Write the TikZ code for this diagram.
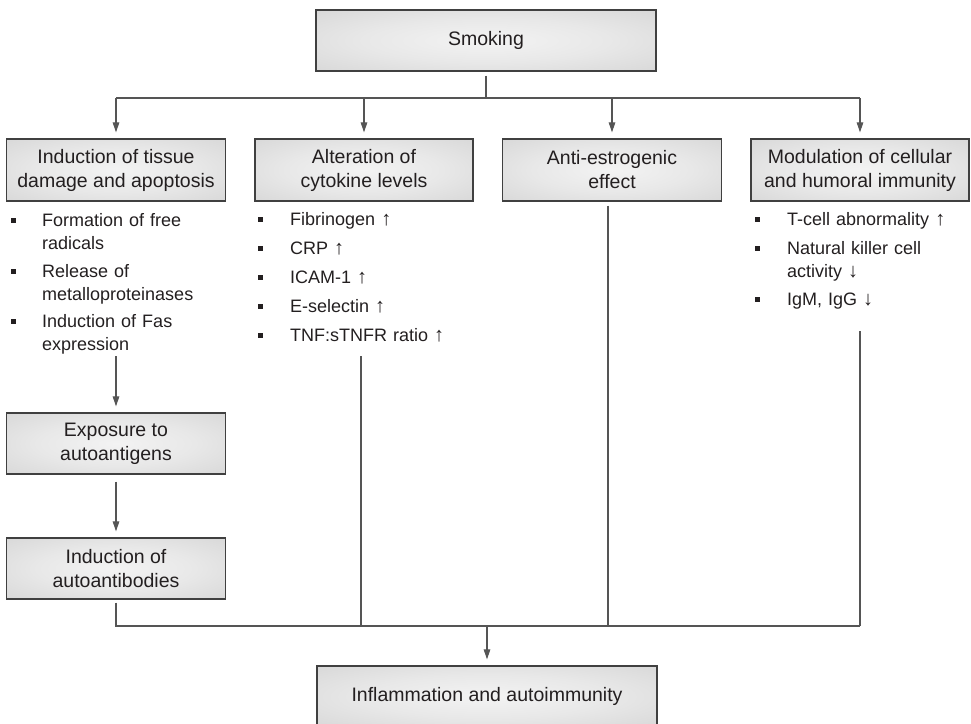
\documentclass[tikz,border=0pt]{standalone}
\usepackage{fontspec}
\setmainfont{Liberation Sans}
\usetikzlibrary{arrows.meta}
\definecolor{bxa}{HTML}{F3F3F3}
\definecolor{bxb}{HTML}{E8E8E8}
\definecolor{bxc}{HTML}{D0D0D0}
\definecolor{bxd}{HTML}{C6C6C6}
\definecolor{ln}{HTML}{555555}
\definecolor{bd}{HTML}{404040}
\definecolor{txt}{HTML}{231F20}
\pgfdeclareradialshading{boxshade}{\pgfpoint{0bp}{0bp}}{color(0bp)=(bxa); color(18bp)=(bxb); color(45bp)=(bxc); color(72bp)=(bxd)}
\newcommand{\fs}{\fontsize{18}{23}\selectfont}
\newcommand{\fb}{\fontsize{19.5}{24}\selectfont}
\newcommand{\up}{{\fontsize{20}{20}\selectfont ↑}}
\newcommand{\dn}{{\fontsize{20}{20}\selectfont ↓}}
\tikzset{
  bx/.style={draw=bd, line width=1.2pt, shading=boxshade, minimum height=62pt,
    align=center, font=\fb, text=txt, inner sep=0pt},
  itm/.style={anchor=base west, align=left, text width=200pt, font=\fs, text=txt, inner sep=0pt},
  bul/.style={fill=txt, minimum size=5pt, inner sep=0pt},
  con/.style={draw=ln, line width=1.1pt},
  arr/.style={con, -{Triangle[length=10pt,width=6.5pt]}, shorten >=6pt},
}
\begin{document}
\begin{tikzpicture}[x=1pt,y=-1pt]
\useasboundingbox (0,0) rectangle (971,723);
\clip (0,0) rectangle (971,723);
% boxes
\node[bx, minimum width=340pt, minimum height=61pt] (s) at (486,40.5) {Smoking};
\node[bx, minimum width=219pt] (c1) at (116,170) {Induction of tissue\\damage and apoptosis};
\node[bx, minimum width=218pt] (c2) at (364,170) {Alteration of\\cytokine levels};
\node[bx, minimum width=219pt] (c3) at (612,170) {Anti-estrogenic\\effect};
\node[bx, minimum width=218pt] (c4) at (860,170) {Modulation of cellular\\and humoral immunity};
\node[bx, minimum width=219pt, minimum height=61pt] (x1) at (116,443.5) {Exposure to\\autoantigens};
\node[bx, minimum width=219pt, minimum height=61pt] (x2) at (116,568.5) {Induction of\\autoantibodies};
\node[bx, minimum width=340pt, minimum height=61pt] (f) at (487,696.5) {Inflammation and autoimmunity};
% column 1 list
\node[bul] (b11) at (13,220) {};
\node[bul] (b12) at (13,271) {};
\node[bul] (b13) at (13,321) {};
\node[itm] (t11) at (42,226) {Formation of free\\radicals};
\node[itm] (t12) at (42,277) {Release of\\metalloproteinases};
\node[itm] (t13) at (42,327) {Induction of Fas\\expression};
% column 2 list
\node[bul] (b21) at (260,219) {};
\node[bul] (b22) at (260,248) {};
\node[bul] (b23) at (260,277) {};
\node[bul] (b24) at (260,306) {};
\node[bul] (b25) at (260,335) {};
\node[itm] (t21) at (290,225) {Fibrinogen \up};
\node[itm] (t22) at (290,254) {CRP \up};
\node[itm] (t23) at (290,283) {ICAM-1 \up};
\node[itm] (t24) at (290,312) {E-selectin \up};
\node[itm] (t25) at (290,341) {TNF:sTNFR ratio \up};
% column 4 list
\node[bul] (b41) at (757,219) {};
\node[bul] (b42) at (757,248) {};
\node[bul] (b43) at (757,299) {};
\node[itm] (t41) at (787,225) {T-cell abnormality \up};
\node[itm] (t42) at (787,254) {Natural killer cell\\activity \dn};
\node[itm] (t43) at (787,305) {IgM, IgG \dn};
% junctions
\coordinate (jt) at (486,98);
\coordinate (jb) at (487,626);
\coordinate (l1) at (116,356);
\coordinate (l2) at (361,356);
\coordinate (l4) at (860,331);
% top connectors
\draw[con] ([yshift=-4pt]s.south) -- (jt);
\draw[con] (c1.north |- jt) -- (c4.north |- jt);
\draw[arr] (c1.north |- jt) -- (c1.north);
\draw[arr] (c2.north |- jt) -- (c2.north);
\draw[arr] (c3.north |- jt) -- (c3.north);
\draw[arr] (c4.north |- jt) -- (c4.north);
% left chain
\draw[arr] (l1) -- (x1.north);
\draw[arr] ([yshift=-7pt]x1.south) -- (x2.north);
% bottom collector
\draw[con] ([yshift=-3pt]x2.south) -- (x2.south |- jb) -- (l4 |- jb);
\draw[con] (l2) -- (l2 |- jb);
\draw[con] ([xshift=-4pt,yshift=-4pt]c3.south) -- ([xshift=-4pt]c3.south |- jb);
\draw[con] (l4) -- (l4 |- jb);
\draw[arr] (jb) -- (f.north);
\end{tikzpicture}
\end{document}
